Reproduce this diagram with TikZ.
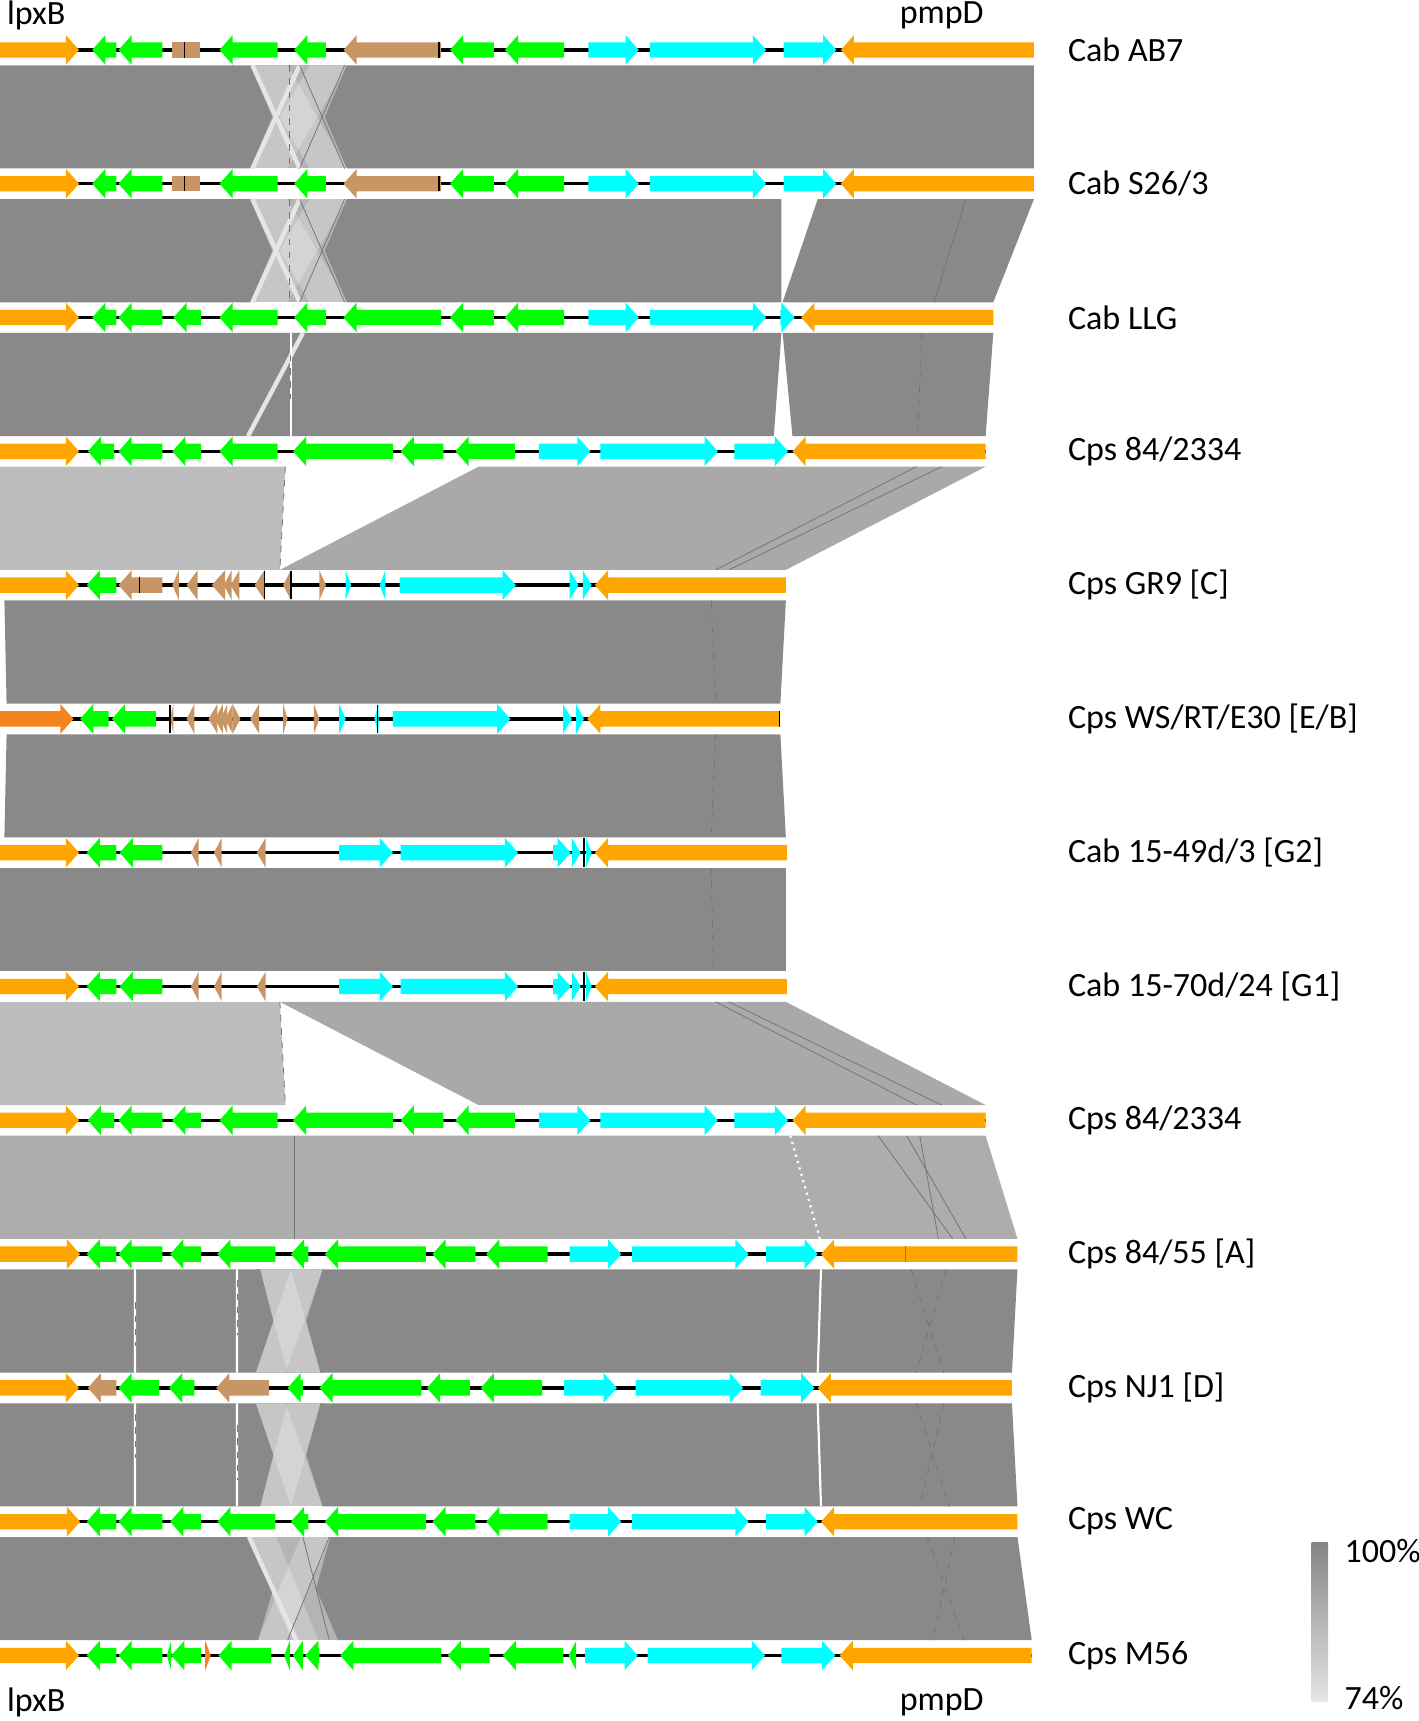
\documentclass[tikz,border=0pt]{standalone}
\usepackage{fontspec}
\setmainfont{Carlito}
\usepackage{xcolor}
\definecolor{cOrange}{HTML}{FFA500}
\definecolor{cOrangeDk}{HTML}{F5841F}
\definecolor{cGreen}{HTML}{00FF00}
\definecolor{cCyan}{HTML}{00FFFF}
\definecolor{cTan}{HTML}{C89664}
\definecolor{cmpDark}{HTML}{898989}
\definecolor{cmpInv}{HTML}{B4B4B4}
\definecolor{cmpLight}{HTML}{BDBDBD}
\definecolor{cmpMid}{HTML}{A9A9A9}
\definecolor{cmpPale}{HTML}{ADADAD}
\usepackage{tikz}
\tikzset{
  backbone/.style={line width=1.5pt,draw=black},
  cmp-dark/.style={fill=cmpDark},
  cmp-inv/.style={fill=cmpInv},
  cmp-light/.style={fill=cmpLight},
  cmp-mid/.style={fill=cmpMid},
  cmp-pale/.style={fill=cmpPale},
  inv-strip/.style={fill=white,fill opacity=.25},
  gap-line/.style={draw=white,line width=1pt},
  gap-strip/.style={draw=white!80!gray,line width=2pt},
  hit-line/.style={draw=black!55,line width=.35pt},
  hit-dash/.style={hit-line,dash pattern=on 3pt off 3pt},
  tick-line/.style={draw=black,line width=.6pt},
  track-label/.style={anchor=west,font=\fontsize{15.5}{18}\selectfont},
  end-label/.style={font=\fontsize{15.5}{18}\selectfont},
}
% gene arrows: start, end, colour
\newcommand{\geneR}[3]{%
  \pgfmathsetmacro{\ghd}{min(12,#2-#1)}%
  \fill[#3] (#1,-7) -- ({#2-\ghd},-7) -- ({#2-\ghd},-13.5) -- (#2,0)
    -- ({#2-\ghd},13.5) -- ({#2-\ghd},7) -- (#1,7) -- cycle;}
\newcommand{\geneL}[3]{%
  \pgfmathsetmacro{\ghd}{min(12,#2-#1)}%
  \fill[#3] (#2,-7) -- ({#1+\ghd},-7) -- ({#1+\ghd},-13.5) -- (#1,0)
    -- ({#1+\ghd},13.5) -- ({#1+\ghd},7) -- (#2,7) -- cycle;}
\newcommand{\geneN}[3]{\fill[#3] (#1,-7) rectangle (#2,7);}
\newcommand{\genesAB}{0/72/R/cOrange,84/106/L/cGreen,108/148/L/cGreen,157/182/N/cTan,
  200/253/L/cGreen,268/297/L/cGreen,313/402/L/cTan,410/450/L/cGreen,460/514/L/cGreen,
  536/582/R/cCyan,592/698/R/cCyan,714/762/R/cCyan,766/942/L/cOrange}
\newcommand{\genesCps}{0/72/R/cOrange,80/104/L/cGreen,108/148/L/cGreen,157/183/L/cGreen,
  200/253/L/cGreen,267/358/L/cGreen,365/404/L/cGreen,415/469/L/cGreen,
  491/538/R/cCyan,547/654/R/cCyan,669/718/R/cCyan,722/898/L/cOrange}
\newcommand{\genesG}{0/72/R/cOrange,79/106/L/cGreen,109/148/L/cGreen,174/181/L/cTan,
  195/202/L/cTan,234/242/L/cTan,309/358/R/cCyan,365/472/R/cCyan,504/520/R/cCyan,
  521/529/R/cCyan,534/539/R/cCyan,542/717/L/cOrange}
\newcommand{\genesA}{0/73/R/cOrange,79/106/L/cGreen,108/148/L/cGreen,155/183/L/cGreen,
  198/251/L/cGreen,265/281/L/cGreen,296/388/L/cGreen,394/433/L/cGreen,443/499/L/cGreen,
  519/566/R/cCyan,576/682/R/cCyan,698/745/R/cCyan,748/927/L/cOrange}

\begin{document}
\begin{tikzpicture}[x=0.5pt,y=-0.5pt]
  \useasboundingbox (0,0) rectangle (1292,1568);

  % comparison bands
  \begin{scope}[shift={(0,59.5)}]
    \fill[cmp-inv] (228,0) rectangle (316,94);
    \fill[inv-strip] (228,0) -- (262,0) -- (316,94) -- (282,94) -- cycle;
    \fill[inv-strip] (282,0) -- (316,0) -- (262,94) -- (228,94) -- cycle;
    \fill[cmp-dark] (0,0) -- (228,0) -- (248,47) -- (228,94) -- (0,94) -- cycle;
    \fill[cmp-dark] (316,0) -- (942,0) -- (942,94) -- (316,94) -- (296,47) -- cycle;
    \draw[gap-strip] (230,0) -- (273,94) (273,0) -- (230,94);
    \draw[hit-line] (273,0) -- (314,94) (314,0) -- (273,94);
    \draw[hit-dash] (264,0) -- (264,94);
  \end{scope}
  \begin{scope}[shift={(0,181.4)}]
    \fill[cmp-inv] (228,0) rectangle (316,94);
    \fill[inv-strip] (228,0) -- (262,0) -- (316,94) -- (282,94) -- cycle;
    \fill[inv-strip] (282,0) -- (316,0) -- (262,94) -- (228,94) -- cycle;
    \fill[cmp-dark] (0,0) -- (228,0) -- (248,47) -- (228,94) -- (0,94) -- cycle;
    \fill[cmp-dark] (316,0) -- (712,0) -- (712,94) -- (316,94) -- (296,47) -- cycle;
    \fill[cmp-dark] (745,0) -- (942,0) -- (905,94) -- (713,94) -- cycle;
    \draw[gap-strip] (230,0) -- (273,94) (273,0) -- (230,94);
    \draw[hit-line] (273,0) -- (314,94) (314,0) -- (273,94);
    \draw[hit-dash] (264,0) -- (264,94);
    \draw[hit-line] (880,0) -- (851,94);
  \end{scope}
  \begin{scope}[shift={(0,303.3)}]
    \fill[cmp-dark] (0,0) -- (712,0) -- (705,94) -- (0,94) -- cycle;
    \fill[cmp-dark] (713,0) -- (905,0) -- (898,94) -- (722,94) -- cycle;
    \draw[gap-strip] (276,0) -- (226,94);
    \draw[gap-line] (265,0) -- (265,94);
    \draw[hit-dash] (265,20) -- (265,60);
    \draw[hit-dash] (840,0) -- (836,94);
  \end{scope}
  \begin{scope}[shift={(0,425.2)}]
    \fill[cmp-light] (0,0) -- (260,0) -- (255,94) -- (0,94) -- cycle;
    \fill[cmp-mid] (436,0) -- (898,0) -- (716,94) -- (255,94) -- cycle;
    \draw[hit-dash] (260,0) -- (255,94);
    \draw[hit-line] (835,0) -- (652,94) (858,0) -- (664,94);
  \end{scope}
  \begin{scope}[shift={(0,547.1)}]
    \fill[cmp-dark] (4,0) -- (716,0) -- (711,94) -- (6,94) -- cycle;
    \draw[hit-dash] (648,0) -- (652,94);
  \end{scope}
  \begin{scope}[shift={(0,669)}]
    \fill[cmp-dark] (6,0) -- (711,0) -- (716,94) -- (4,94) -- cycle;
    \draw[hit-dash] (652,0) -- (648,94);
  \end{scope}
  \begin{scope}[shift={(0,790.9)}]
    \fill[cmp-dark] (0,0) -- (716,0) -- (716,94) -- (0,94) -- cycle;
    \draw[hit-dash] (648,0) -- (650,94);
  \end{scope}
  \begin{scope}[shift={(0,912.8)}]
    \fill[cmp-light] (0,0) -- (255,0) -- (260,94) -- (0,94) -- cycle;
    \fill[cmp-mid] (255,0) -- (716,0) -- (898,94) -- (436,94) -- cycle;
    \draw[hit-dash] (255,0) -- (260,94);
    \draw[hit-line] (652,0) -- (835,94) (664,0) -- (858,94);
  \end{scope}
  \begin{scope}[shift={(0,1034.7)}]
    \fill[cmp-pale] (0,0) -- (898,0) -- (927,94) -- (0,94) -- cycle;
    \draw[hit-line] (268,0) -- (268,94);
    \draw[gap-line,dotted] (720,0) -- (747,94);
    \draw[hit-line] (800,0) -- (868,94) (826,0) -- (880,94) (838,0) -- (855,94);
  \end{scope}
  \begin{scope}[shift={(0,1156.6)}]
    \fill[cmp-inv] (233,0) rectangle (296,94);
    \fill[inv-strip] (237,0) -- (265,0) -- (292,94) -- (262,94) -- cycle;
    \fill[inv-strip] (265,0) -- (294,0) -- (260,94) -- (233,94) -- cycle;
    \fill[cmp-dark] (0,0) -- (237,0) -- (249,47) -- (233,94) -- (0,94) -- cycle;
    \fill[cmp-dark] (294,0) -- (927,0) -- (922,94) -- (292,94) -- (279,47) -- cycle;
    \draw[gap-line] (123,0) -- (123,94) (216,0) -- (216,94) (748,0) -- (745,94);
    \draw[hit-dash] (216,10) -- (216,60) (123,30) -- (123,70);
    \draw[hit-dash] (830,0) -- (860,94) (862,0) -- (835,94);
  \end{scope}
  \begin{scope}[shift={(0,1278.5)}]
    \fill[cmp-inv] (233,0) rectangle (296,94);
    \fill[inv-strip] (233,0) -- (260,0) -- (294,94) -- (265,94) -- cycle;
    \fill[inv-strip] (262,0) -- (292,0) -- (265,94) -- (237,94) -- cycle;
    \fill[cmp-dark] (0,0) -- (233,0) -- (249,47) -- (237,94) -- (0,94) -- cycle;
    \fill[cmp-dark] (292,0) -- (922,0) -- (927,94) -- (294,94) -- (279,47) -- cycle;
    \draw[gap-line] (123,0) -- (123,94) (216,0) -- (216,94) (745,0) -- (748,94);
    \draw[hit-dash] (216,20) -- (216,70) (123,10) -- (123,50);
    \draw[hit-dash] (835,0) -- (865,94) (860,0) -- (838,94);
  \end{scope}
  \begin{scope}[shift={(0,1400.4)}]
    \fill[cmp-inv] (225,0) rectangle (308,94);
    \fill[inv-strip] (225,0) -- (252,0) -- (290,94) -- (266,94) -- cycle;
    \fill[inv-strip] (274,0) -- (301,0) -- (262,94) -- (235,94) -- cycle;
    \fill[cmp-dark] (0,0) -- (225,0) -- (249,47) -- (235,94) -- (0,94) -- cycle;
    \fill[cmp-dark] (301,0) -- (927,0) -- (940,94) -- (308,94) -- (288,47) -- cycle;
    \draw[gap-strip] (227,0) -- (270,94);
    \draw[hit-line] (276,0) -- (300,94) (300,0) -- (262,94);
    \draw[hit-dash] (845,0) -- (878,94) (870,0) -- (850,94);
  \end{scope}

  % genome tracks
  \begin{scope}[shift={(0,45.5)}]
    \draw[backbone] (0,0) -- (942,0);
    \foreach \ga/\gb/\gdir/\gcol in \genesAB {\csname gene\gdir\endcsname{\ga}{\gb}{\gcol}}
    \draw[tick-line] (168,-7) -- (168,7) (400,-7) -- (400,7);
  \end{scope}
  \begin{scope}[shift={(0,167.4)}]
    \draw[backbone] (0,0) -- (942,0);
    \foreach \ga/\gb/\gdir/\gcol in \genesAB {\csname gene\gdir\endcsname{\ga}{\gb}{\gcol}}
    \draw[tick-line] (168,-7) -- (168,7) (400,-7) -- (400,7);
  \end{scope}
  \begin{scope}[shift={(0,289.3)}]
    \draw[backbone] (0,0) -- (905,0);
    \foreach \ga/\gb/\gdir/\gcol in {0/72/R/cOrange,84/106/L/cGreen,108/148/L/cGreen,
      158/183/L/cGreen,200/253/L/cGreen,268/297/L/cGreen,313/402/L/cGreen,410/450/L/cGreen,
      460/514/L/cGreen,536/582/R/cCyan,592/698/R/cCyan,711/724/R/cCyan,730/905/L/cOrange}
      {\csname gene\gdir\endcsname{\ga}{\gb}{\gcol}}
  \end{scope}
  \begin{scope}[shift={(0,411.2)}]
    \draw[backbone] (0,0) -- (898,0);
    \foreach \ga/\gb/\gdir/\gcol in \genesCps {\csname gene\gdir\endcsname{\ga}{\gb}{\gcol}}
  \end{scope}
  \begin{scope}[shift={(0,533.1)}]
    \draw[backbone] (0,0) -- (716,0);
    \foreach \ga/\gb/\gdir/\gcol in {0/72/R/cOrange,79/106/L/cGreen,108/148/L/cTan,
      157/163/L/cTan,170/180/L/cTan,193/205/L/cTan,204/211/L/cTan,210/218/L/cTan,
      232/241/L/cTan,258/265/L/cTan,291/297/R/cTan,315/320/R/cCyan,346/351/L/cCyan,
      364/470/R/cCyan,519/527/R/cCyan,531/539/R/cCyan,542/716/L/cOrange}
      {\csname gene\gdir\endcsname{\ga}{\gb}{\gcol}}
    \draw[tick-line] (127,-7) -- (127,7) (241,-13) -- (241,13) (265,-13) -- (265,13);
  \end{scope}
  \begin{scope}[shift={(0,655)}]
    \draw[backbone] (0,0) -- (710,0);
    \foreach \ga/\gb/\gdir/\gcol in {0/67/R/cOrangeDk,73/99/L/cGreen,102/142/L/cGreen,
      155/158/L/cTan,170/177/L/cTan,190/198/L/cTan,196/203/L/cTan,201/207/L/cTan,
      205/212/L/cTan,212/219/R/cTan,228/236/L/cTan,258/262/R/cTan,286/291/R/cTan,
      309/315/R/cCyan,341/345/L/cCyan,358/465/R/cCyan,513/521/R/cCyan,525/532/R/cCyan,
      535/710/L/cOrange}
      {\csname gene\gdir\endcsname{\ga}{\gb}{\gcol}}
    \draw[tick-line] (155,-13) -- (155,13) (344,-13) -- (344,13) (710,-7) -- (710,7);
  \end{scope}
  \begin{scope}[shift={(0,776.9)}]
    \draw[backbone] (0,0) -- (717,0);
    \foreach \ga/\gb/\gdir/\gcol in \genesG {\csname gene\gdir\endcsname{\ga}{\gb}{\gcol}}
    \draw[tick-line] (532,-13) -- (532,13);
  \end{scope}
  \begin{scope}[shift={(0,898.8)}]
    \draw[backbone] (0,0) -- (717,0);
    \foreach \ga/\gb/\gdir/\gcol in \genesG {\csname gene\gdir\endcsname{\ga}{\gb}{\gcol}}
    \draw[tick-line] (532,-13) -- (532,13);
  \end{scope}
  \begin{scope}[shift={(0,1020.7)}]
    \draw[backbone] (0,0) -- (898,0);
    \foreach \ga/\gb/\gdir/\gcol in \genesCps {\csname gene\gdir\endcsname{\ga}{\gb}{\gcol}}
  \end{scope}
  \begin{scope}[shift={(0,1142.6)}]
    \draw[backbone] (0,0) -- (927,0);
    \foreach \ga/\gb/\gdir/\gcol in \genesA {\csname gene\gdir\endcsname{\ga}{\gb}{\gcol}}
    \draw[tick-line,draw=cOrange!70!black] (825,-7) -- (825,7);
  \end{scope}
  \begin{scope}[shift={(0,1264.5)}]
    \draw[backbone] (0,0) -- (922,0);
    \foreach \ga/\gb/\gdir/\gcol in {0/72/R/cOrange,80/106/L/cTan,108/145/L/cGreen,
      154/177/L/cGreen,197/245/L/cTan,262/276/L/cGreen,291/384/L/cGreen,389/428/L/cGreen,
      438/494/L/cGreen,514/562/R/cCyan,579/677/R/cCyan,693/742/R/cCyan,745/922/L/cOrange}
      {\csname gene\gdir\endcsname{\ga}{\gb}{\gcol}}
  \end{scope}
  \begin{scope}[shift={(0,1386.4)}]
    \draw[backbone] (0,0) -- (927,0);
    \foreach \ga/\gb/\gdir/\gcol in \genesA {\csname gene\gdir\endcsname{\ga}{\gb}{\gcol}}
  \end{scope}
  \begin{scope}[shift={(0,1508.3)}]
    \draw[backbone] (0,0) -- (940,0);
    \foreach \ga/\gb/\gdir/\gcol in {0/72/R/cOrange,79/106/L/cGreen,108/148/L/cGreen,
      152/156/L/cGreen,156/183/L/cGreen,187/192/R/cOrangeDk,199/247/L/cGreen,
      259/264/L/cGreen,267/276/L/cGreen,278/291/L/cGreen,310/402/L/cGreen,408/446/L/cGreen,
      458/513/L/cGreen,518/525/L/cGreen,533/581/R/cCyan,590/697/R/cCyan,712/761/R/cCyan,
      765/940/L/cOrange}
      {\csname gene\gdir\endcsname{\ga}{\gb}{\gcol}}
  \end{scope}

  % track names
  \node[track-label] (lab1) at (966,45.5) {Cab AB7};
  \node[track-label] (lab2) at (966,167.4) {Cab S26/3};
  \node[track-label] (lab3) at (966,289.3) {Cab LLG};
  \node[track-label] (lab4) at (966,411.2) {Cps 84/2334};
  \node[track-label] (lab5) at (966,533.1) {Cps GR9 [C]};
  \node[track-label] (lab6) at (966,655) {Cps WS/RT/E30 [E/B]};
  \node[track-label] (lab7) at (966,776.9) {Cab 15-49d/3 [G2]};
  \node[track-label] (lab8) at (966,898.8) {Cab 15-70d/24 [G1]};
  \node[track-label] (lab9) at (966,1020.7) {Cps 84/2334};
  \node[track-label] (lab10) at (966,1142.6) {Cps 84/55 [A]};
  \node[track-label] (lab11) at (966,1264.5) {Cps NJ1 [D]};
  \node[track-label] (lab12) at (966,1386.4) {Cps WC};
  \node[track-label] (lab13) at (966,1508.3) {Cps M56};

  \node[end-label] (lpxTop) at (33,14) {lpxB};
  \node[end-label] (pmpTop) at (858,14) {pmpD};
  \node[end-label] (lpxBot) at (33,1551) {lpxB};
  \node[end-label] (pmpBot) at (858,1551) {pmpD};

  % identity scale
  \shade[top color=black!48,bottom color=black!10] (1195,1405) rectangle (1210,1550);
  \node[track-label] (pct100) at (1218,1413) {100\%};
  \node[track-label] (pct74) at (1218,1547) {74\%};
\end{tikzpicture}
\end{document}
